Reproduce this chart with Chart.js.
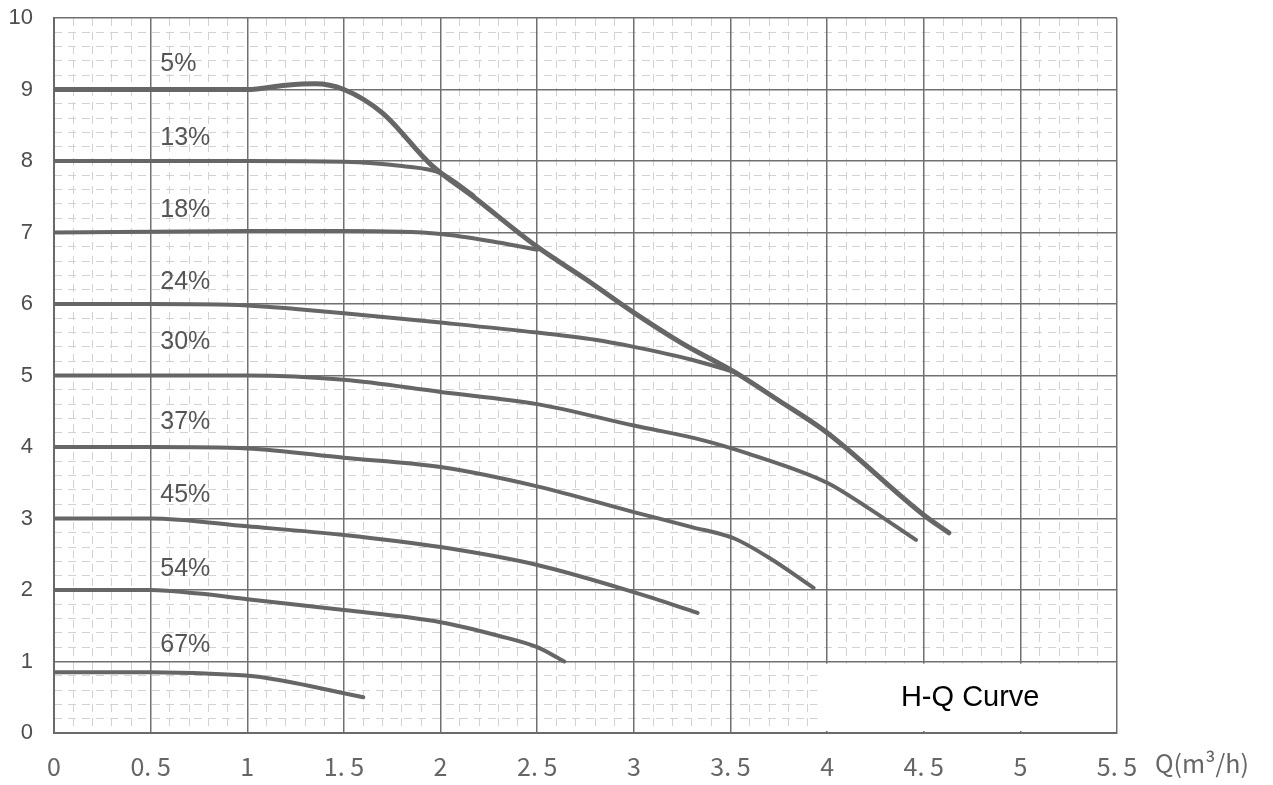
<!DOCTYPE html>
<html lang="en">
<head>
<meta charset="UTF-8">
<title>H-Q Curve</title>
<script src="https://cdn.jsdelivr.net/npm/chart.js"></script>
<style>
  body { margin: 0; padding: 0; background: #fff; }
  #wrap { width: 1273px; height: 785px; }
</style>
</head>
<body>
<div id="wrap"><canvas id="hq" width="1273" height="785"></canvas></div>
<script>
// flow Q (m3/h) and head H (m)
const q5  = [0, 0.5, 1, 1.2, 1.35, 1.5, 1.7, 1.95, 2.17, 2.5, 2.75, 3, 3.25, 3.52, 3.75, 4, 4.5, 4.63];
const h5  = [9, 9, 9, 9.06, 9.08, 9.0, 8.67, 7.95, 7.5, 6.8, 6.35, 5.88, 5.45, 5.05, 4.65, 4.2, 3.05, 2.8];
const q13 = [0, 0.5, 1, 1.5, 1.8, 2, 2.17];
const h13 = [8, 8, 8, 7.99, 7.93, 7.83, 7.52];
const q18 = [0, 0.5, 1, 1.5, 2, 2.3, 2.5];
const h18 = [7, 7.01, 7.02, 7.02, 6.98, 6.86, 6.76];
const q24 = [0, 0.5, 1, 1.25, 1.5, 2, 2.5, 2.8, 3, 3.3, 3.52];
const h24 = [6, 6, 5.98, 5.93, 5.87, 5.74, 5.6, 5.5, 5.4, 5.22, 5.05];
const q30 = [0, 0.5, 1, 1.5, 2, 2.5, 3, 3.35, 3.6, 4, 4.2, 4.46];
const h30 = [5, 5, 5, 4.94, 4.77, 4.6, 4.3, 4.1, 3.9, 3.5, 3.17, 2.7];
const q37 = [0, 0.5, 1, 1.5, 2, 2.5, 3, 3.3, 3.52, 3.7, 3.93];
const h37 = [4, 4, 3.98, 3.85, 3.72, 3.45, 3.09, 2.88, 2.72, 2.45, 2.03];
const q45 = [0, 0.5, 1, 1.5, 2, 2.5, 3, 3.33];
const h45 = [3, 3, 2.89, 2.77, 2.6, 2.35, 1.97, 1.68];
const q54 = [0, 0.5, 0.75, 1, 1.5, 2, 2.3, 2.5, 2.64];
const h54 = [2, 2, 1.95, 1.87, 1.72, 1.55, 1.36, 1.2, 1.0];
const q67 = [0, 0.5, 0.95, 1.1, 1.6];
const h67 = [0.85, 0.85, 0.81, 0.77, 0.5];

// speed labels and where they sit (Q, H)
const speeds = ['5%', '13%', '18%', '24%', '30%', '37%', '45%', '54%', '67%'];
const labelQ = 0.55;
const labelH = [9.36, 8.32, 7.31, 6.31, 5.47, 4.35, 3.33, 2.29, 1.23];

const xTitle = 'Q(m³/h)';
const boxText = 'H-Q Curve';

const curves = [[q5, h5], [q13, h13], [q18, h18], [q24, h24], [q30, h30],
                [q37, h37], [q45, h45], [q54, h54], [q67, h67]];

function pts(q, h) {
  return q.map((v, i) => ({ x: v, y: h[i] }));
}

const datasets = curves.map((c, i) => ({
  label: speeds[i],
  data: pts(c[0], c[1]),
  showLine: true,
  borderColor: '#666666',
  borderWidth: i === 0 ? 5 : 4,
  pointRadius: 0,
  cubicInterpolationMode: 'monotone',
  borderCapStyle: 'round',
  xAxisID: 'x',
  yAxisID: 'y'
}));

function isMajor(v, step) {
  const r = v / step;
  return Math.abs(r - Math.round(r)) < 1e-6;
}

const extras = {
  id: 'extras',
  afterDatasetsDraw(chart) {
    const ctx = chart.ctx;
    const xs = chart.scales.x, ys = chart.scales.y;
    ctx.save();
    // white box with caption
    const bx = xs.getPixelForValue(3.95), by = ys.getPixelForValue(0.97);
    const br = xs.getPixelForValue(5.5) - 2, bb = ys.getPixelForValue(0) - 2;
    ctx.fillStyle = '#ffffff';
    ctx.fillRect(bx, by, br - bx, bb - by);
    ctx.fillStyle = '#000000';
    ctx.font = '29px "Liberation Sans", Arial, sans-serif';
    ctx.textAlign = 'center';
    ctx.textBaseline = 'middle';
    ctx.fillText(boxText, (bx + br) / 2 + 4, (by + bb) / 2 + 1);
    // speed labels
    ctx.fillStyle = '#555555';
    ctx.font = '25px "Liberation Sans", Arial, sans-serif';
    ctx.textAlign = 'left';
    speeds.forEach((s, i) => {
      ctx.fillText(s, xs.getPixelForValue(labelQ), ys.getPixelForValue(labelH[i]));
    });
    // axis title to the right of the last tick
    ctx.fillStyle = '#666666';
    ctx.font = '25px "Noto Sans CJK JP", sans-serif';
    ctx.textBaseline = 'top';
    ctx.fillText(xTitle, xs.right + 38, ys.bottom + 18);
    ctx.restore();
  }
};

new Chart(document.getElementById('hq'), {
  type: 'scatter',
  data: { datasets: datasets },
  options: {
    responsive: false,
    animation: false,
    layout: { padding: { top: 18, right: 156, bottom: 0, left: 0 } },
    plugins: { legend: { display: false }, tooltip: { enabled: false } },
    scales: {
      xm: {
        type: 'linear', position: 'bottom', min: 0, max: 5.5,
        ticks: { stepSize: 0.1, display: false },
        grid: {
          drawTicks: false,
          color: ctx => isMajor(ctx.tick.value, 0.5) ? 'rgba(0,0,0,0)' : '#d2d2d2',
          lineWidth: 1
        },
        border: { display: false, dash: [8, 6] },
        afterFit(s) { s.height = 0; s.paddingLeft = 0; s.paddingRight = 0; }
      },
      ym: {
        type: 'linear', position: 'left', min: 0, max: 10,
        ticks: { stepSize: 0.2, display: false },
        grid: {
          drawTicks: false,
          color: ctx => isMajor(ctx.tick.value, 1) ? 'rgba(0,0,0,0)' : '#d2d2d2',
          lineWidth: 1
        },
        border: { display: false, dash: [8, 6] },
        afterFit(s) { s.width = 0; s.paddingTop = 0; s.paddingBottom = 0; }
      },
      x: {
        type: 'linear', position: 'bottom', min: 0, max: 5.5,
        ticks: {
          stepSize: 0.5,
          padding: 18,
          color: '#666666',
          font: { family: '"Noto Sans CJK JP", sans-serif', size: 25 },
          callback: v => {
            const r = Math.round(v * 10) / 10;
            return Number.isInteger(r) ? String(r) : r.toFixed(1).replace('.', '. ');
          }
        },
        grid: { drawTicks: false, color: '#707070', lineWidth: 1.5 },
        border: { color: '#6a6a6a', width: 2 },
        afterFit(s) { s.height = 52; }
      },
      y: {
        type: 'linear', position: 'left', min: 0, max: 10,
        ticks: {
          stepSize: 1,
          padding: 21,
          color: '#4e4e4e',
          font: { family: '"Liberation Sans", Arial, sans-serif', size: 22 }
        },
        grid: { drawTicks: false, color: '#707070', lineWidth: 1.5 },
        border: { color: '#6a6a6a', width: 2 },
        afterFit(s) { s.width = 54; s.paddingTop = 0; s.paddingBottom = 0; }
      }
    }
  },
  plugins: [extras]
});
</script>
</body>
</html>
